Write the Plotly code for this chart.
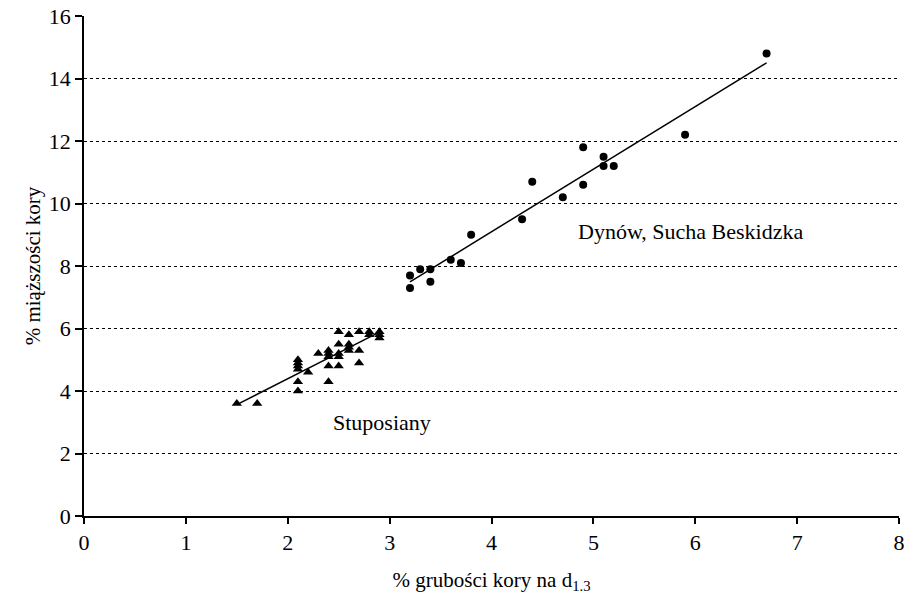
import numpy as np
import plotly.graph_objects as go

# Stuposiany stand (triangles)
stup_x = [1.5, 1.7,
          2.1, 2.1, 2.1, 2.1, 2.1, 2.1,
          2.2, 2.3,
          2.4, 2.4, 2.4, 2.4, 2.4,
          2.5, 2.5, 2.5, 2.5, 2.5,
          2.6, 2.6, 2.6, 2.6,
          2.7, 2.7, 2.7,
          2.8, 2.8,
          2.9, 2.9, 2.9]
stup_y = [3.6, 3.6,
          4.0, 4.3, 4.7, 4.8, 4.9, 5.0,
          4.6, 5.2,
          4.3, 4.8, 5.1, 5.2, 5.3,
          4.8, 5.1, 5.2, 5.5, 5.9,
          5.3, 5.4, 5.5, 5.8,
          4.9, 5.3, 5.9,
          5.8, 5.9,
          5.7, 5.8, 5.9]

# Dynów and Sucha Beskidzka stands (circles)
dyn_x = [3.2, 3.2, 3.3, 3.4, 3.4, 3.6, 3.7, 3.8, 4.3, 4.4,
         4.7, 4.9, 4.9, 5.1, 5.1, 5.2, 5.9, 6.7]
dyn_y = [7.7, 7.3, 7.9, 7.9, 7.5, 8.2, 8.1, 9.0, 9.5, 10.7,
         10.2, 11.8, 10.6, 11.5, 11.2, 11.2, 12.2, 14.8]

x_ticks = [0, 1, 2, 3, 4, 5, 6, 7, 8]
y_ticks = [0, 2, 4, 6, 8, 10, 12, 14, 16]

FONT = "Liberation Serif"


def fit_line(xs, ys):
    k, b = np.polyfit(xs, ys, 1)
    xr = np.array([min(xs), max(xs)])
    return xr, k * xr + b


fig = go.Figure()

for xs, ys, sym, sz in [(stup_x, stup_y, "triangle-up", 9),
                        (dyn_x, dyn_y, "circle", 8)]:
    lx, ly = fit_line(xs, ys)
    fig.add_trace(go.Scatter(x=lx, y=ly, mode="lines",
                             line=dict(color="black", width=1.5),
                             hoverinfo="skip"))
    fig.add_trace(go.Scatter(x=xs, y=ys, mode="markers",
                             marker=dict(symbol=sym, size=sz, color="black",
                                         line=dict(width=0))))

fig.add_annotation(x=5.95, y=9.1, text="Dynów, Sucha Beskidzka",
                   showarrow=False, font=dict(family=FONT, size=22, color="black"))
fig.add_annotation(x=2.93, y=3.0, text="Stuposiany",
                   showarrow=False, font=dict(family=FONT, size=22, color="black"))

fig.update_layout(
    width=909, height=605,
    margin=dict(l=84, r=10, t=16, b=89),
    paper_bgcolor="white", plot_bgcolor="white",
    showlegend=False,
    font=dict(family=FONT, size=22, color="black"),
)
fig.update_xaxes(
    range=[0, 8], tickvals=x_ticks, ticktext=[str(v) for v in x_ticks],
    showline=True, linecolor="black", linewidth=1.5,
    ticks="outside", ticklen=6, tickwidth=1.5, tickcolor="black",
    showgrid=False, zeroline=False,
    automargin=False, ticklabeloverflow="allow",
    title=dict(text="% grubości kory na d<sub>1.3</sub>", standoff=18,
               font=dict(family=FONT, size=21)),
)
fig.update_yaxes(
    range=[0, 16], tickvals=y_ticks, ticktext=[str(v) for v in y_ticks],
    showline=True, linecolor="black", linewidth=1.5,
    ticks="outside", ticklen=7, tickwidth=1.5, tickcolor="black",
    showgrid=True, gridcolor="black", gridwidth=1, griddash="dot",
    zeroline=False,
    automargin=False, ticklabeloverflow="allow",
    title=dict(text="% miąższości kory", standoff=2,
               font=dict(family=FONT, size=21)),
)

fig.write_html("out.html")
